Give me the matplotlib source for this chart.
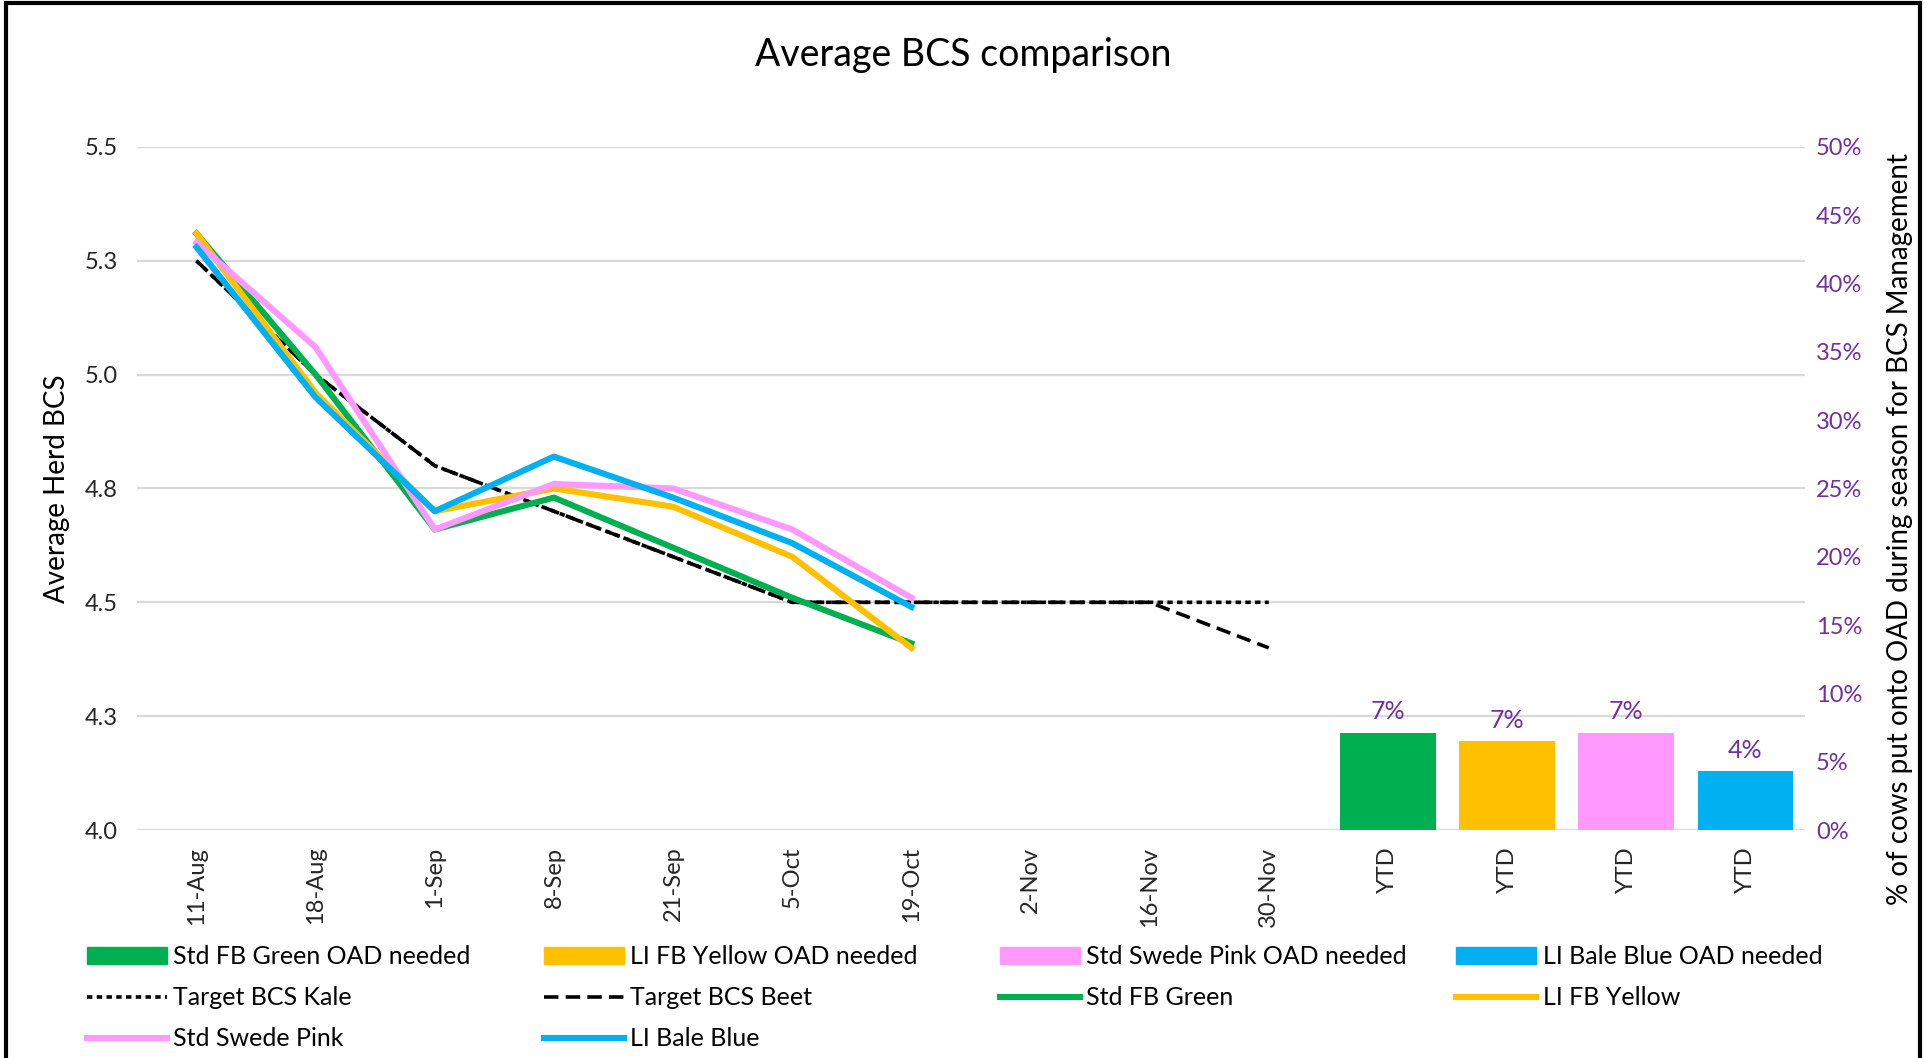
import numpy as np
import matplotlib
matplotlib.use("Agg")
import matplotlib.pyplot as plt
from matplotlib.patches import Patch, Rectangle
from matplotlib.lines import Line2D
from matplotlib.ticker import PercentFormatter

plt.rcParams['font.family'] = ['Lato', 'DejaVu Sans']

# data
dates = ['11-Aug', '18-Aug', '1-Sep', '8-Sep', '21-Sep', '5-Oct', '19-Oct',
         '2-Nov', '16-Nov', '30-Nov']
ytd_labels = ['YTD', 'YTD', 'YTD', 'YTD']

target_kale = [5.25, 5.0, 4.8, 4.7, 4.6, 4.5, 4.5, 4.5, 4.5, 4.5]
target_beet = [5.25, 5.0, 4.8, 4.7, 4.6, 4.5, 4.5, 4.5, 4.5, 4.4]

std_fb_green = [5.31, 5.0, 4.66, 4.73, 4.62, 4.51, 4.41]
li_fb_yellow = [5.31, 4.96, 4.70, 4.75, 4.71, 4.60, 4.40]
std_swede_pink = [5.29, 5.06, 4.66, 4.76, 4.75, 4.66, 4.51]
li_bale_blue = [5.28, 4.95, 4.70, 4.82, 4.73, 4.63, 4.49]

oad_needed = [0.071, 0.065, 0.071, 0.043]
oad_labels = ['7%', '7%', '7%', '4%']

bcs_ticks = [4.0, 4.25, 4.5, 4.75, 5.0, 5.25, 5.5]
bcs_tick_labels = ['4.0', '4.3', '4.5', '4.8', '5.0', '5.3', '5.5']

green = '#00B050'
yellow = '#FFC000'
pink = '#FF99FF'
blue = '#00B0F0'
purple = '#7030A0'

all_labels = dates + ytd_labels
x = np.arange(len(all_labels))
xd = np.arange(len(std_fb_green))
xb = np.arange(len(dates), len(all_labels))

fig = plt.figure(figsize=(19.26, 10.58), dpi=100)
ax = fig.add_axes([0.0711, 0.2155, 0.866, 0.6456])
ax2 = ax.twinx()

ax.set_xlim(-0.5, len(all_labels) - 0.5)
ax.set_ylim(4.0, 5.5)
ax2.set_ylim(0, 0.5)

# gridlines
ax.set_yticks(bcs_ticks)
ax.set_yticklabels(bcs_tick_labels)
ax.grid(axis='y', color='#D9D9D9', lw=1.6)
ax.set_axisbelow(True)

# target lines
ax.plot(np.arange(len(dates)), target_beet, color='black', lw=2.6,
        linestyle=(0, (4, 2)), zorder=2)
ax.plot(np.arange(len(dates)), target_kale, color='black', lw=2.6,
        linestyle=(0, (1.5, 1.2)), zorder=2)

# herd lines
ax.plot(xd, std_fb_green, color=green, lw=4.4, zorder=3)
ax.plot(xd, li_fb_yellow, color=yellow, lw=4.4, zorder=3)
ax.plot(xd, std_swede_pink, color=pink, lw=4.4, zorder=3)
ax.plot(xd, li_bale_blue, color=blue, lw=4.4, zorder=3)

# OAD bars (secondary axis)
bar_colors = [green, yellow, pink, blue]
bars = ax2.bar(xb, oad_needed, width=0.8, color=bar_colors)
for b, lab in zip(bars, oad_labels):
    ax2.text(b.get_x() + b.get_width() / 2, b.get_height() + 0.007, lab,
             ha='center', va='bottom', color=purple, fontsize=18)

ax.set_xticks(x)
ax.set_xticklabels(all_labels, rotation=90, fontsize=17)
ax.tick_params(axis='both', length=0, labelsize=17, labelcolor='#262626')
ax.tick_params(axis='x', pad=12)
ax.tick_params(axis='y', pad=14)

ax2.set_yticks(np.arange(0, 0.51, 0.05))
ax2.yaxis.set_major_formatter(PercentFormatter(1.0, decimals=0))
ax2.tick_params(axis='y', length=0, labelsize=17, labelcolor=purple, pad=8)

for a in (ax, ax2):
    for s in a.spines.values():
        s.set_visible(False)

ax.set_ylabel('Average Herd BCS', fontsize=20, labelpad=10)
ax2.set_ylabel('% of cows put onto OAD during season for BCS Management',
               fontsize=20)
ax2.yaxis.set_label_coords(1.049, 0.44)

fig.text(0.5, 0.948, 'Average BCS comparison', ha='center', va='center',
         fontsize=27)

# legend, row by row in four columns
def line_h(color, ls='-', lw=4.4):
    return Line2D([], [], color=color, lw=lw, linestyle=ls)

columns = [
    [(Patch(color=green), 'Std FB Green OAD needed'),
     (line_h('black', (0, (1.5, 1.2)), 2.6), 'Target BCS Kale'),
     (line_h(pink), 'Std Swede Pink')],
    [(Patch(color=yellow), 'LI FB Yellow OAD needed'),
     (line_h('black', (0, (4, 2)), 2.6), 'Target BCS Beet'),
     (line_h(blue), 'LI Bale Blue')],
    [(Patch(color=pink), 'Std Swede Pink OAD needed'),
     (line_h(green), 'Std FB Green')],
    [(Patch(color=blue), 'LI Bale Blue OAD needed'),
     (line_h(yellow), 'LI FB Yellow')],
]
col_x = [0.040, 0.277, 0.514, 0.751]
for cx, col in zip(col_x, columns):
    fig.legend([h for h, _ in col], [t for _, t in col],
               loc='upper left', bbox_to_anchor=(cx, 0.116),
               frameon=False, fontsize=18, handlelength=3.2,
               handletextpad=0.25, labelspacing=0.72, borderaxespad=0)

# chart border
fig.patches.append(Rectangle((0.003, -0.01), 0.994, 1.007,
                             transform=fig.transFigure, fill=False,
                             edgecolor='black', lw=3))

fig.savefig('out.png', dpi=100)
